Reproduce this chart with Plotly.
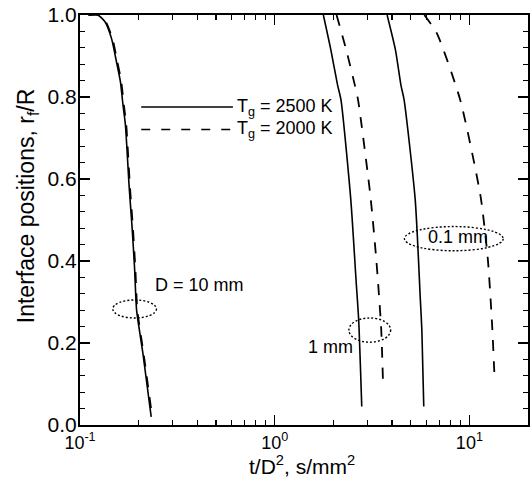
import plotly.graph_objects as go

# ---- data (t/D^2 in s/mm^2, interface position rf/R) ----
d10_tg2500_x = [0.110, 0.1235, 0.1341, 0.1451, 0.1539, 0.1613, 0.1663, 0.1711, 0.1789, 0.1853, 0.1908, 0.1953, 0.2104, 0.2321]
d10_tg2500_y = [1.000, 1.000, 0.984, 0.943, 0.886, 0.837, 0.780, 0.732, 0.580, 0.480, 0.380, 0.280, 0.175, 0.020]
d10_tg2000_x = [0.111, 0.1248, 0.1355, 0.1466, 0.1555, 0.1630, 0.1680, 0.1728, 0.1806, 0.1870, 0.1925, 0.1970, 0.2120, 0.2340]
d10_tg2000_y = [1.000, 1.000, 0.984, 0.943, 0.886, 0.837, 0.780, 0.732, 0.580, 0.480, 0.380, 0.280, 0.175, 0.025]

d1_tg2500_x = [1.778, 1.943, 2.104, 2.19, 2.46, 2.62, 2.70, 2.80]
d1_tg2500_y = [1.000, 0.915, 0.829, 0.793, 0.549, 0.350, 0.256, 0.045]
d1_tg2000_x = [2.079, 2.33, 2.58, 2.68, 3.10, 3.33, 3.52, 3.60]
d1_tg2000_y = [1.000, 0.915, 0.829, 0.793, 0.560, 0.400, 0.239, 0.105]

d01_tg2500_x = [3.78, 4.17, 4.45, 4.62, 5.27, 5.60, 5.70, 5.83]
d01_tg2500_y = [1.000, 0.915, 0.829, 0.793, 0.549, 0.305, 0.232, 0.045]
d01_tg2000_x = [5.87, 6.81, 8.97, 11.42, 12.45, 13.10, 13.46]
d01_tg2000_y = [1.000, 0.955, 0.793, 0.557, 0.402, 0.239, 0.117]

x_tickvals = [0.1, 1, 10]
x_ticktext = ["10<sup>-1</sup>", "10<sup>0</sup>", "10<sup>1</sup>"]
y_tickvals = [0.0, 0.2, 0.4, 0.6, 0.8, 1.0]
y_ticktext = ["0.0", "0.2", "0.4", "0.6", "0.8", "1.0"]

legend_labels = ["T<sub>g</sub> = 2500 K", "T<sub>g</sub> = 2000 K"]
size_labels = ["D = 10 mm", "1 mm", "0.1 mm"]

FONT = "Arial, Liberation Sans, Helvetica, sans-serif"
SOLID = "solid"
DASH = "11px,10px"

fig = go.Figure()
series = [
    (d10_tg2500_x, d10_tg2500_y, SOLID),
    (d10_tg2000_x, d10_tg2000_y, DASH),
    (d1_tg2500_x, d1_tg2500_y, SOLID),
    (d1_tg2000_x, d1_tg2000_y, DASH),
    (d01_tg2500_x, d01_tg2500_y, SOLID),
    (d01_tg2000_x, d01_tg2000_y, DASH),
]
for xs, ys, dash in series:
    fig.add_trace(go.Scatter(
        x=xs, y=ys, mode="lines",
        line=dict(color="black", width=1.6 if dash == SOLID else 1.8, dash=dash, shape="spline", smoothing=0.6),
        showlegend=False, hoverinfo="skip",
    ))

axis_common = dict(
    showline=True, linecolor="black", linewidth=2, mirror="ticks",
    ticks="inside", ticklen=10, tickwidth=1.3, tickcolor="black",
    showgrid=False, zeroline=False, ticklabeloverflow="allow",
)

fig.update_xaxes(
    type="log", range=[-1, 1.30103],
    tickvals=x_tickvals, ticktext=x_ticktext,
    tickfont=dict(family=FONT, size=18, color="black"),
    minor=dict(ticks="inside", ticklen=5, tickwidth=1.2, tickcolor="black", dtick="D1", showgrid=False),
    **axis_common,
)
fig.update_yaxes(
    range=[0, 1],
    tickvals=y_tickvals, ticktext=y_ticktext,
    tickfont=dict(family=FONT, size=21, color="black"),
    ticklabelstandoff=-3,
    minor=dict(ticks="inside", ticklen=5, tickwidth=1.2, tickcolor="black", dtick=0.04, showgrid=False),
    **axis_common,
)

shapes = [
    # legend samples
    dict(type="line", xref="x", yref="y", x0=0.2063, x1=0.6102, y0=0.7756, y1=0.7756,
         line=dict(color="black", width=1.6)),
    dict(type="line", xref="x", yref="y", x0=0.2063, x1=0.6102, y0=0.7207, y1=0.7207,
         line=dict(color="black", width=1.6, dash="9px,11px")),
    # dotted ellipses grouping the curves
    dict(type="circle", xref="x", yref="y", x0=0.1474, x1=0.247, y0=0.261, y1=0.305,
         line=dict(color="black", width=1.4, dash="2px,2px")),
    dict(type="circle", xref="x", yref="y", x0=2.405, x1=3.94, y0=0.202, y1=0.261,
         line=dict(color="black", width=1.4, dash="2px,2px")),
    dict(type="circle", xref="x", yref="y", x0=4.64, x1=14.91, y0=0.425, y1=0.484,
         line=dict(color="black", width=1.4, dash="2px,2px")),
]

ann_font = dict(family=FONT, size=18, color="black")
annotations = [
    dict(x=-0.2041, y=0.7756, xref="x", yref="y", text=legend_labels[0], showarrow=False,
         xanchor="left", yanchor="middle", font=ann_font),
    dict(x=-0.2041, y=0.7207, xref="x", yref="y", text=legend_labels[1], showarrow=False,
         xanchor="left", yanchor="middle", font=ann_font),
    dict(x=-0.6276, y=0.3415, xref="x", yref="y", text=size_labels[0], showarrow=False,
         xanchor="left", yanchor="middle", font=ann_font),
    dict(x=0.4133, y=0.190, xref="x", yref="y", text=size_labels[1], showarrow=False,
         xanchor="right", yanchor="middle", font=ann_font),
    dict(x=0.7755, y=0.4585, xref="x", yref="y", text=size_labels[2], showarrow=False,
         xanchor="left", yanchor="middle", font=ann_font),
    # axis titles
    dict(x=-0.117, y=0.535, xref="paper", yref="paper", text="Interface positions, r<sub>f</sub>/R",
         textangle=-90, showarrow=False, xanchor="center", yanchor="middle",
         font=dict(family=FONT, size=23, color="black")),
    dict(x=0.4955, y=-0.0976, xref="paper", yref="paper", text="t/D<sup>2</sup>, s/mm<sup>2</sup>",
         showarrow=False, xanchor="center", yanchor="middle",
         font=dict(family=FONT, size=21, color="black")),
]

fig.update_layout(
    width=531, height=480,
    margin=dict(l=80, r=1, t=15, b=55),
    paper_bgcolor="white", plot_bgcolor="white",
    shapes=shapes, annotations=annotations,
    showlegend=False, hovermode=False,
    font=dict(family=FONT, color="black"),
)

# remove the default page margin so the 531x480 figure fills the window exactly
fig.write_html(
    "out.html",
    config={"displayModeBar": False, "staticPlot": True},
    post_script="document.body.style.margin='0px'; document.body.style.overflow='hidden';",
)
